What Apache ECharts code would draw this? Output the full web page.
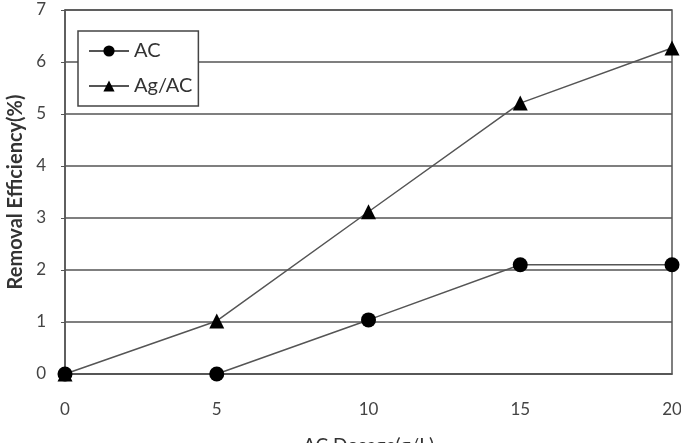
<!DOCTYPE html>
<html><head><meta charset="utf-8">
<script src="https://cdn.jsdelivr.net/npm/echarts@6/dist/echarts.min.js"></script>
<style>html,body{margin:0;padding:0;background:#fff}#c{width:681px;height:443px}</style>
</head><body><div id="c"></div>
<script>
const xValues = [0, 5, 10, 15, 20];
const acValues = [0, 0, 1.04, 2.1, 2.1];
const agacValues = [0, 1.02, 3.12, 5.21, 6.27];
const seriesNames = ['AC', 'Ag/AC'];
const xTitle = 'AC Dosage(g/L)';
const yTitle = 'Removal Efficiency(%)';

const font = 'Lato, "Open Sans", sans-serif';
const chart = echarts.init(document.getElementById('c'));
chart.setOption({
  animation: false,
  backgroundColor: '#fff',
  grid: { left: 65, right: 9, top: 10, bottom: 69, show: true, borderColor: '#555', borderWidth: 1.5, containLabel: false, outerBoundsMode: 'none' },
  legend: {
    orient: 'vertical', left: 78, top: 31,
    backgroundColor: '#fff', borderColor: '#444', borderWidth: 1.5,
    padding: [10, 6, 10, 10], itemGap: 15, itemWidth: 40, itemHeight: 14,
    textStyle: { fontFamily: font, fontSize: 20, color: '#333' },
    data: seriesNames
  },
  xAxis: {
    type: 'value', min: 0, max: 20, interval: 5,
    name: xTitle, nameLocation: 'middle', nameGap: 62,
    nameTextStyle: { fontFamily: font, fontSize: 19, color: '#333' },
    axisLine: { show: true, lineStyle: { color: '#555', width: 1.5 } },
    axisTick: { show: false },
    axisLabel: { fontFamily: font, fontSize: 17, color: '#444', margin: 27 },
    splitLine: { show: false }
  },
  yAxis: {
    type: 'value', min: 0, max: 7, interval: 1,
    name: yTitle, nameLocation: 'middle', nameGap: 37,
    nameTextStyle: { fontFamily: font, fontSize: 20, fontWeight: 'bold', color: '#333' },
    axisLine: { show: true, lineStyle: { color: '#555', width: 1.5 } },
    axisTick: { show: true, inside: false, length: 4, lineStyle: { color: '#555' } },
    axisLabel: { fontFamily: font, fontSize: 17, color: '#444', margin: 19 },
    splitLine: { show: true, lineStyle: { color: '#555', width: 1.5 } }
  },
  series: [
    {
      name: seriesNames[0], type: 'line',
      data: xValues.map((x, i) => [x, acValues[i]]),
      symbol: 'circle', symbolSize: 15,
      lineStyle: { color: '#555', width: 1.5 },
      itemStyle: { color: '#000' }, z: 3
    },
    {
      name: seriesNames[1], type: 'line',
      data: xValues.map((x, i) => [x, agacValues[i]]),
      symbol: 'triangle', symbolSize: 15,
      lineStyle: { color: '#555', width: 1.5 },
      itemStyle: { color: '#000' }, z: 2
    }
  ]
});
</script></body></html>
